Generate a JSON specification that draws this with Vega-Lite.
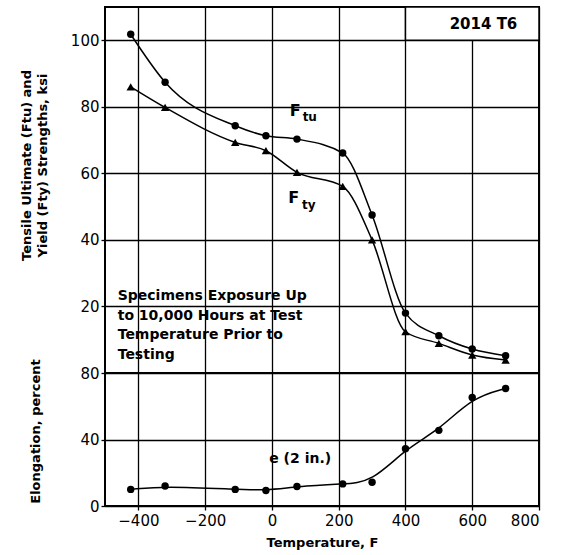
{
  "$schema": "https://vega.github.io/schema/vega-lite/v6.json",
  "padding": {"left": 19, "top": 5, "right": 5, "bottom": 2},
  "spacing": 0,
  "bounds": "flush",
  "background": "white",
  "config": {
    "view": {"stroke": "black", "strokeWidth": 2},
    "axis": {
      "labelFont": "DejaVu Sans", "labelFontSize": 15, "labelColor": "black",
      "titleFont": "DejaVu Sans", "titleFontWeight": "bold", "titleFontSize": 13, "titleColor": "black",
      "tickColor": "black", "tickSize": 4, "tickWidth": 1.3, "domain": false,
      "gridColor": "black", "gridOpacity": 1, "gridWidth": 1.3
    },
    "text": {"font": "DejaVu Sans", "fontWeight": "bold", "color": "black"}
  },
  "datasets": {
    "strength": [
      {"temp": -423, "prop": "Ftu", "value": 101.8},
      {"temp": -320, "prop": "Ftu", "value": 87.4},
      {"temp": -110, "prop": "Ftu", "value": 74.3},
      {"temp": -18, "prop": "Ftu", "value": 71.3},
      {"temp": 75, "prop": "Ftu", "value": 70.3},
      {"temp": 212, "prop": "Ftu", "value": 66.1},
      {"temp": 300, "prop": "Ftu", "value": 47.5},
      {"temp": 400, "prop": "Ftu", "value": 18},
      {"temp": 500, "prop": "Ftu", "value": 11.2},
      {"temp": 600, "prop": "Ftu", "value": 7.2},
      {"temp": 700, "prop": "Ftu", "value": 5.2},
      {"temp": -423, "prop": "Fty", "value": 86},
      {"temp": -320, "prop": "Fty", "value": 79.8},
      {"temp": -110, "prop": "Fty", "value": 69.3},
      {"temp": -18, "prop": "Fty", "value": 66.8},
      {"temp": 75, "prop": "Fty", "value": 60.3},
      {"temp": 212, "prop": "Fty", "value": 56.1},
      {"temp": 300, "prop": "Fty", "value": 40},
      {"temp": 400, "prop": "Fty", "value": 12.4},
      {"temp": 500, "prop": "Fty", "value": 8.9},
      {"temp": 600, "prop": "Fty", "value": 5.4},
      {"temp": 700, "prop": "Fty", "value": 3.9}
    ],
    "elong": [
      {"temp": -423, "value": 10},
      {"temp": -320, "value": 12},
      {"temp": -110, "value": 10},
      {"temp": -18, "value": 9.3},
      {"temp": 75, "value": 11.7},
      {"temp": 212, "value": 13.3},
      {"temp": 300, "value": 14.3},
      {"temp": 400, "value": 34.5},
      {"temp": 500, "value": 45.5},
      {"temp": 600, "value": 65.3},
      {"temp": 700, "value": 70.7}
    ],
    "one": [{}]
  },
  "vconcat": [
    {
      "width": 434,
      "height": 366,
      "layer": [
        {
          "data": {"name": "strength"},
          "mark": {"type": "line", "color": "black", "strokeWidth": 1.5, "interpolate": "monotone"},
          "encoding": {
            "x": {"field": "temp", "type": "quantitative",
                  "scale": {"domain": [-500, 800], "nice": false, "zero": false},
                  "axis": {"orient": "top", "values": [-400, -200, 0, 200, 400, 600, 800], "labels": false, "ticks": false, "title": null, "grid": true, "minExtent": 0, "maxExtent": 0, "offset": 0}},
            "y": {"field": "value", "type": "quantitative",
                  "scale": {"domain": [0, 110], "nice": false, "zero": false},
                  "axis": {"values": [20, 40, 60, 80, 100], "grid": true,
                           "title": ["Tensile Ultimate (Ftu) and", "Yield (Fty) Strengths, ksi"],
                           "titleX": -72, "titleY": 158, "titleLineHeight": 16}},
            "detail": {"field": "prop"}
          }
        },
        {
          "data": {"name": "strength"},
          "mark": {"type": "point", "filled": true, "color": "black", "opacity": 1},
          "encoding": {
            "x": {"field": "temp", "type": "quantitative"},
            "y": {"field": "value", "type": "quantitative"},
            "shape": {"field": "prop", "type": "nominal",
                      "scale": {"domain": ["Ftu", "Fty"], "range": ["circle", "triangle-up"]}, "legend": null},
            "size": {"field": "prop", "type": "nominal",
                     "scale": {"domain": ["Ftu", "Fty"], "range": [55, 70]}, "legend": null}
          }
        },
        {
          "data": {"name": "one"},
          "mark": {"type": "rect", "fill": "white", "stroke": "black", "strokeWidth": 1.5},
          "encoding": {
            "x": {"datum": 400, "type": "quantitative"},
            "x2": {"datum": 800},
            "y": {"datum": 100, "type": "quantitative"},
            "y2": {"datum": 110}
          }
        },
        {
          "data": {"name": "one"},
          "mark": {"type": "text", "fontSize": 15, "align": "right", "baseline": "middle"},
          "encoding": {
            "x": {"datum": 735, "type": "quantitative"},
            "y": {"datum": 105, "type": "quantitative"},
            "text": {"value": "2014 T6"}
          }
        },
        {
          "data": {"name": "one"},
          "mark": {"type": "text", "fontSize": 14, "align": "left", "baseline": "top", "lineBreak": "\n", "lineHeight": 19.5},
          "encoding": {
            "x": {"datum": -462, "type": "quantitative"},
            "y": {"datum": 25.2, "type": "quantitative"},
            "text": {"value": "Specimens Exposure Up\nto 10,000 Hours at Test\nTemperature Prior to\nTesting"}
          }
        },
        {
          "data": {"name": "one"},
          "mark": {"type": "text", "fontSize": 16, "align": "center", "baseline": "middle"},
          "encoding": {
            "x": {"datum": 70, "type": "quantitative"},
            "y": {"datum": 78.8, "type": "quantitative"},
            "text": {"value": "F"}
          }
        },
        {
          "data": {"name": "one"},
          "mark": {"type": "text", "fontSize": 12, "align": "left", "baseline": "middle"},
          "encoding": {
            "x": {"datum": 92, "type": "quantitative"},
            "y": {"datum": 76.8, "type": "quantitative"},
            "text": {"value": "tu"}
          }
        },
        {
          "data": {"name": "one"},
          "mark": {"type": "text", "fontSize": 16, "align": "center", "baseline": "middle"},
          "encoding": {
            "x": {"datum": 65, "type": "quantitative"},
            "y": {"datum": 52.7, "type": "quantitative"},
            "text": {"value": "F"}
          }
        },
        {
          "data": {"name": "one"},
          "mark": {"type": "text", "fontSize": 12, "align": "left", "baseline": "middle"},
          "encoding": {
            "x": {"datum": 90, "type": "quantitative"},
            "y": {"datum": 50.5, "type": "quantitative"},
            "text": {"value": "ty"}
          }
        }
      ]
    },
    {
      "width": 434,
      "height": 133,
      "layer": [
        {
          "data": {"name": "elong"},
          "mark": {"type": "line", "color": "black", "strokeWidth": 1.5, "interpolate": "basis"},
          "encoding": {
            "x": {"field": "temp", "type": "quantitative",
                  "scale": {"domain": [-500, 800], "nice": false, "zero": false},
                  "axis": {"values": [-400, -200, 0, 200, 400, 600, 800], "grid": true,
                           "title": "Temperature, F", "titlePadding": 8, "labelPadding": 3}},
            "y": {"field": "value", "type": "quantitative",
                  "scale": {"domain": [0, 80], "nice": false, "zero": false},
                  "axis": {"values": [0, 40, 80], "grid": true,
                           "title": "Elongation, percent", "titleX": -63, "titleY": 58}}
          }
        },
        {
          "data": {"name": "elong"},
          "mark": {"type": "point", "filled": true, "color": "black", "opacity": 1, "size": 55, "shape": "circle"},
          "encoding": {
            "x": {"field": "temp", "type": "quantitative"},
            "y": {"field": "value", "type": "quantitative"}
          }
        },
        {
          "data": {"name": "one"},
          "mark": {"type": "text", "fontSize": 14, "align": "left", "baseline": "middle"},
          "encoding": {
            "x": {"datum": -8, "type": "quantitative"},
            "y": {"datum": 28, "type": "quantitative"},
            "text": {"value": "e (2 in.)"}
          }
        }
      ]
    }
  ]
}
